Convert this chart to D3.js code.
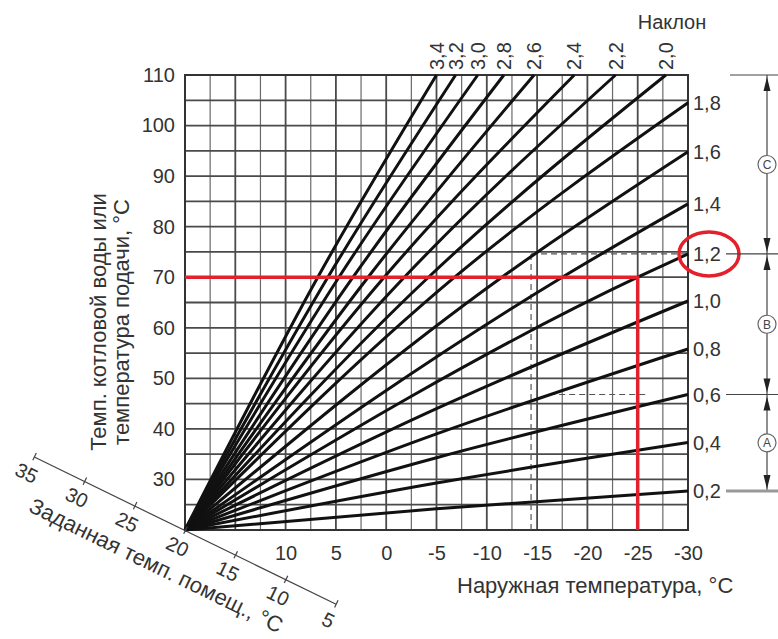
<!DOCTYPE html>
<html>
<head>
<meta charset="utf-8">
<script src="https://cdn.jsdelivr.net/npm/d3@7/dist/d3.min.js"></script>
<style>
  body { margin: 0; background: #fff; }
  svg { display: block; font-family: "Liberation Sans", Arial, sans-serif; }
  .grid line { stroke: #4a4a4a; stroke-width: 1.8; }
  .grid line.minor { stroke: #6a6a6a; stroke-width: 1.2; }
  .frame { fill: none; stroke: #333; stroke-width: 2; }
  .curve { fill: none; stroke: #111; stroke-width: 3; }
  .label { fill: #333; font-size: 20px; }
  .title { fill: #333; font-size: 22px; }
  .dash { stroke: #555; stroke-width: 1.2; stroke-dasharray: 6,4; }
  .bracket { stroke: #444; stroke-width: 1.2; fill: none; }
  .red { stroke: #e3202b; stroke-width: 3.5; fill: none; }
</style>
</head>
<body>
<div id="chart"></div>
<script>
const width = 778,
      height = 639;

// heating curve slopes ("Наклон")
const slopes = [0.2, 0.4, 0.6, 0.8, 1.0, 1.2, 1.4, 1.6, 1.8,
                2.0, 2.2, 2.4, 2.6, 2.8, 3.0, 3.2, 3.4];

// flat curves (0,2 .. 1,8) end on the right edge at -30 °C: flow temp
const rightEndFlow = [27.7, 37.3, 46.8, 55.8, 65.3, 74.6, 84.5, 94.8, 104.5];
// steep curves (2,0 .. 3,4) leave the top edge at 110 °C: outside temp
const topEndOutside = [-27.8, -22.8, -18.7, -14.7, -11.7, -9.1, -6.9, -5.0];
// one point in the middle of each curve [outside, flow] (curves bow upward)
const midPoints = [
    [-5, 24.2], [-5, 29.3], [-5, 34.3], [-5, 39.0], [-5, 44.0],
    [-25, 70], [-17.5, 70], [-11.5, 70], [-6.8, 70],
    [-4.2, 70], [-1.8, 70], [0.2, 70], [1.8, 70], [3.3, 70], [4.7, 70], [5.8, 70], [6.8, 70]
];

const outsideTicks = [10, 5, 0, -5, -10, -15, -20, -25, -30];
const flowTicks = [30, 40, 50, 60, 70, 80, 90, 100, 110];
const roomTicks = [35, 30, 25, 20, 15, 10, 5];

// worked example (red): -25 °C outside -> 70 °C flow
const exampleOutside = -25,
      exampleFlow = 70;
// dashed helper lines
const dashOutside = -14.4;
const dashLow = [-16.2, -25.8];   // outside range of the dashed line at slope 0,6

// zones on the right: letter and the slopes bounding it (null = top of chart, 110 °C)
const zoneLetters = ['A', 'B', 'C'];
const zoneBounds = [[0.2, 0.6], [0.6, 1.2], [1.2, null]];

const fmt = v => d3.format('.1f')(v).replace('.', ',');

const svg = d3.select('#chart').append('svg')
    .attr('width', width)
    .attr('height', height);

const x = d3.scaleLinear().domain([20, -30]).range([185, 688]);
const y = d3.scaleLinear().domain([20, 110]).range([530, 75]);

// grid
const grid = svg.append('g').attr('class', 'grid');
grid.selectAll('.v')
    .data(d3.range(20, -30.1, -2.5))
    .enter().append('line')
    .attr('class', d => d % 5 === 0 ? 'v' : 'v minor')
    .attr('x1', d => x(d)).attr('x2', d => x(d))
    .attr('y1', y(20)).attr('y2', y(110));
grid.selectAll('.h')
    .data(d3.range(20, 110.1, 5))
    .enter().append('line')
    .attr('class', 'h')
    .attr('x1', x(20)).attr('x2', x(-30))
    .attr('y1', d => y(d)).attr('y2', d => y(d));

svg.append('rect')
    .attr('class', 'frame')
    .attr('x', x(20)).attr('y', y(110))
    .attr('width', x(-30) - x(20)).attr('height', y(20) - y(110));

// dashed helper lines
const y12 = rightEndFlow[slopes.indexOf(1.2)],
      y06 = rightEndFlow[slopes.indexOf(0.6)];
svg.append('line').attr('class', 'dash')
    .attr('x1', x(dashOutside)).attr('x2', x(dashOutside))
    .attr('y1', y(y12)).attr('y2', y(20));
svg.append('line').attr('class', 'dash')
    .attr('x1', x(dashOutside)).attr('x2', x(-30))
    .attr('y1', y(y12)).attr('y2', y(y12));
svg.append('line').attr('class', 'dash')
    .attr('x1', x(dashLow[0])).attr('x2', x(dashLow[1]))
    .attr('y1', y(y06)).attr('y2', y(y06));

// heating curves
const curves = slopes.map((s, i) => ({
    slope: s,
    end: i < rightEndFlow.length
        ? [-30, rightEndFlow[i]]
        : [topEndOutside[i - rightEndFlow.length], 110],
    mid: midPoints[i]
}));

const line = d3.line()
    .x(d => x(d[0]))
    .y(d => y(d[1]));
const curveLine = d3.line()
    .x(d => x(d[0]))
    .y(d => y(d[1]))
    .curve(d3.curveMonotoneX);

svg.append('g')
    .selectAll('.curve')
    .data(curves)
    .enter().append('path')
    .attr('class', 'curve')
    .attr('d', d => curveLine([[20, 20], d.mid, d.end]));

// red example
svg.append('path')
    .attr('class', 'red')
    .attr('d', line([[20, exampleFlow], [exampleOutside, exampleFlow], [exampleOutside, 20]]));

// axes
const yAxis = d3.axisLeft(y).tickValues(flowTicks).tickSize(0).tickPadding(10);
svg.append('g')
    .attr('transform', `translate(${x(20)},0)`)
    .call(yAxis)
    .call(g => g.select('.domain').remove())
    .selectAll('text').attr('class', 'label').attr('font-size', null).attr('font-family', null);

const xAxis = d3.axisBottom(x).tickValues(outsideTicks).tickSize(0).tickPadding(16)
    .tickFormat(d => String(d));
svg.append('g')
    .attr('transform', `translate(0,${y(20)})`)
    .call(xAxis)
    .call(g => g.select('.domain').remove())
    .selectAll('text').attr('class', 'label').attr('font-size', null).attr('font-family', null);

// room temperature axis, running diagonally through the origin
const angle = 26;
const step = (x(15) - x(20)) / Math.cos(angle * Math.PI / 180);
const room = d3.scaleLinear().domain([35, 5]).range([-3 * step, 3 * step]);
const roomAxis = d3.axisBottom(room).tickValues(roomTicks).tickSize(8).tickSizeOuter(0).tickPadding(3)
    .tickFormat(d => String(d));
const roomG = svg.append('g')
    .attr('transform', `translate(${x(20)},${y(20)}) rotate(${angle})`)
    .attr('color', '#444')
    .call(roomAxis);
roomG.select('.domain').attr('stroke-width', 1.2);
roomG.selectAll('.tick line').attr('y1', -4).attr('y2', 4).attr('stroke-width', 1.2);
roomG.selectAll('.tick text').attr('class', 'label').attr('font-size', null).attr('font-family', null);
roomG.append('text')
    .attr('class', 'title')
    .attr('text-anchor', 'start')
    .attr('x', room(35) + 18)
    .attr('y', 52)
    .text('Заданная темп. помещ., °C');

// axis titles
svg.append('text')
    .attr('class', 'title')
    .attr('transform', 'translate(106,322) rotate(-90)')
    .attr('text-anchor', 'middle')
    .text('Темп. котловой воды или');
svg.append('text')
    .attr('class', 'title')
    .attr('transform', 'translate(129,322) rotate(-90)')
    .attr('text-anchor', 'middle')
    .text('температура подачи, °C');
svg.append('text')
    .attr('class', 'title')
    .attr('x', 457).attr('y', 593)
    .text('Наружная температура, °C');

// slope labels
svg.append('g')
    .selectAll('text')
    .data(curves.filter(d => d.end[0] === -30))
    .enter().append('text')
    .attr('class', 'label')
    .attr('x', x(-30) + 5)
    .attr('y', d => y(d.end[1]))
    .attr('dy', '0.35em')
    .text(d => fmt(d.slope));

svg.append('g')
    .selectAll('text')
    .data(curves.filter(d => d.end[1] === 110))
    .enter().append('text')
    .attr('class', 'label')
    .attr('transform', d => `translate(${x(d.end[0])},${y(110) - 5}) rotate(-90)`)
    .attr('dy', '0.35em')
    .text(d => fmt(d.slope));

svg.append('text')
    .attr('class', 'label')
    .attr('x', 672).attr('y', 29)
    .attr('text-anchor', 'middle')
    .text('Наклон');

// red ellipse round the chosen slope
svg.append('ellipse')
    .attr('class', 'red')
    .attr('stroke-width', 2.5)
    .attr('cx', x(-30) + 21).attr('cy', y(y12))
    .attr('rx', 30).attr('ry', 22);

// zone bracket on the right
const bx = 767;
const flowAt = s => s === null ? 110 : rightEndFlow[slopes.indexOf(s)];
const bounds = [0.2, 0.6, 1.2, null];
const br = svg.append('g').attr('class', 'bracket');
br.append('line')
    .attr('x1', bx).attr('x2', bx)
    .attr('y1', y(110)).attr('y2', y(flowAt(0.2)));
bounds.forEach(s => {
    br.append('line')
        .attr('x1', s === null ? 730 : 726).attr('x2', 778)
        .attr('y1', y(flowAt(s))).attr('y2', y(flowAt(s)))
        .attr('stroke', s === 0.2 ? '#999' : null)
        .attr('stroke-width', s === 0.2 ? 3 : null);
});

function arrow(tipY, dir) {
    // dir -1 points up, +1 points down
    const t = tipY - dir * 2, b = t - dir * 14;
    br.append('path')
        .attr('d', `M${bx},${t}L${bx - 3.5},${b}L${bx + 3.5},${b}Z`)
        .attr('fill', '#222').attr('stroke', 'none');
}

zoneLetters.forEach((letter, i) => {
    const lo = y(flowAt(zoneBounds[i][0])),
          hi = y(flowAt(zoneBounds[i][1]));
    arrow(hi, -1);
    arrow(lo, 1);
    const cy = (lo + hi) / 2;
    br.append('circle')
        .attr('cx', bx).attr('cy', cy).attr('r', 9)
        .attr('fill', '#fff').attr('stroke', '#666');
    svg.append('text')
        .attr('x', bx).attr('y', cy)
        .attr('dy', '0.36em')
        .attr('text-anchor', 'middle')
        .attr('font-size', 12)
        .attr('fill', '#444')
        .text(letter);
});
</script>
</body>
</html>
